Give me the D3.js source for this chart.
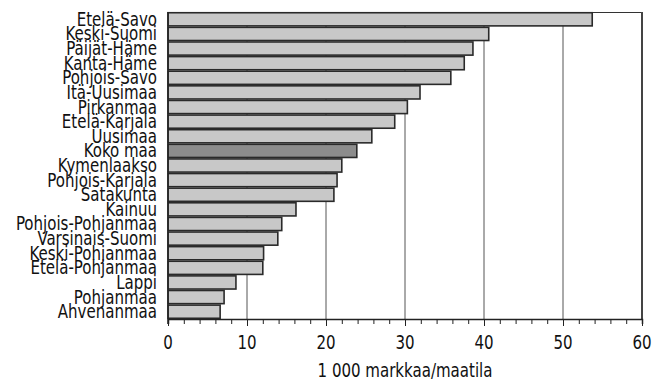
<!DOCTYPE html>
<html>
<head>
<meta charset="utf-8">
<script src="https://cdn.jsdelivr.net/npm/d3@7"></script>
<style>
  body { margin: 0; background: #fff; }
  .lbl { font-family: "DejaVu Sans Condensed", "Liberation Sans Narrow", sans-serif; fill: #111; font-size: 19px; }
</style>
</head>
<body>
<div class="chart"></div>
<script>
var svgWidth = 665;
var svgHeight = 385;

// regions, top to bottom
var regions = ["Etelä-Savo", "Keski-Suomi", "Päijät-Häme", "Kanta-Häme", "Pohjois-Savo",
  "Itä-Uusimaa", "Pirkanmaa", "Etelä-Karjala", "Uusimaa", "Koko maa", "Kymenlaakso",
  "Pohjois-Karjala", "Satakunta", "Kainuu", "Pohjois-Pohjanmaa", "Varsinais-Suomi",
  "Keski-Pohjanmaa", "Etelä-Pohjanmaa", "Lappi", "Pohjanmaa", "Ahvenanmaa"];
var values = [53.7, 40.6, 38.6, 37.5, 35.8, 31.9, 30.3, 28.7, 25.8, 23.9, 22.0,
  21.4, 21.0, 16.2, 14.4, 13.9, 12.1, 12.0, 8.6, 7.1, 6.6];
var majorTicks = [0, 10, 20, 30, 40, 50, 60];
var minorTicks = d3.range(0, 61, 2);
var xTitle = "1 000 markkaa/maatila";

var margin = { top: 12, right: 23, bottom: 66, left: 168 };
var width = svgWidth - margin.left - margin.right;
var height = svgHeight - margin.top - margin.bottom;
var squeeze = 0.88; // narrow the font horizontally

var svg = d3.select(".chart")
  .append("svg")
  .attr("width", svgWidth)
  .attr("height", svgHeight)
  .append("g")
  .attr("transform", "translate(" + margin.left + "," + margin.top + ")");

var x = d3.scaleLinear().domain([0, 60]).range([0, width]);
var y = d3.scaleBand().domain(regions).range([0, height]).paddingInner(0.1).paddingOuter(0.05);

// gridlines
svg.selectAll("line.grid")
  .data([10, 20, 30, 40, 50])
  .enter().append("line")
  .attr("class", "grid")
  .attr("x1", function(d) { return x(d); })
  .attr("x2", function(d) { return x(d); })
  .attr("y1", 0)
  .attr("y2", height)
  .attr("stroke", "#555")
  .attr("stroke-width", 1);

// frame: top and right
svg.append("line")
  .attr("x1", 0).attr("x2", width).attr("y1", 0.5).attr("y2", 0.5)
  .attr("stroke", "#333").attr("stroke-width", 1.2);
svg.append("line")
  .attr("x1", width).attr("x2", width).attr("y1", 0).attr("y2", height)
  .attr("stroke", "#444").attr("stroke-width", 2);

// bars
svg.selectAll("rect.bar")
  .data(regions)
  .enter().append("rect")
  .attr("class", "bar")
  .attr("x", x(0))
  .attr("y", function(d) { return y(d); })
  .attr("width", function(d, i) { return x(values[i]) - x(0); })
  .attr("height", y.bandwidth())
  .attr("fill", function(d) { return d === "Koko maa" ? "#8c8c8c" : "#c8c8c8"; })
  .attr("stroke", "#2a2a2a")
  .attr("stroke-width", 1.6);

// x axis
var minorAxis = d3.axisBottom(x).tickValues(minorTicks).tickSize(5).tickFormat("");
var majorAxis = d3.axisBottom(x).tickValues(majorTicks).tickSize(7).tickFormat("");

var gMinor = svg.append("g")
  .attr("transform", "translate(0," + height + ")")
  .call(minorAxis);
gMinor.select(".domain").attr("stroke", "#222").attr("stroke-width", 1.5);
gMinor.selectAll(".tick line").attr("stroke", "#222");

var gMajor = svg.append("g")
  .attr("transform", "translate(0," + height + ")")
  .call(majorAxis);
gMajor.select(".domain").remove();
gMajor.selectAll(".tick line").attr("stroke", "#222");

// tick labels (squeezed)
svg.selectAll("text.tickl")
  .data(majorTicks)
  .enter().append("text")
  .attr("class", "lbl tickl")
  .attr("text-anchor", "middle")
  .attr("transform", function(d) {
    return "translate(" + x(d) + "," + (height + 29.5) + ") scale(" + squeeze + ",1)";
  })
  .text(function(d) { return d3.format("d")(d); });

// left axis line
svg.append("line")
  .attr("x1", 0).attr("x2", 0).attr("y1", 0).attr("y2", height + 5)
  .attr("stroke", "#222").attr("stroke-width", 1.5);

// category labels
svg.selectAll("text.cat")
  .data(regions)
  .enter().append("text")
  .attr("class", "lbl cat")
  .attr("text-anchor", "end")
  .attr("transform", function(d) {
    return "translate(-11," + (y(d) + y.bandwidth() / 2 + 6.5) + ") scale(" + squeeze + ",1)";
  })
  .text(function(d) { return d; });

// x title
svg.append("text")
  .attr("class", "lbl")
  .attr("text-anchor", "middle")
  .attr("transform", "translate(" + x(30) + "," + (height + 58) + ") scale(" + squeeze + ",1)")
  .text(xTitle);
</script>
</body>
</html>
